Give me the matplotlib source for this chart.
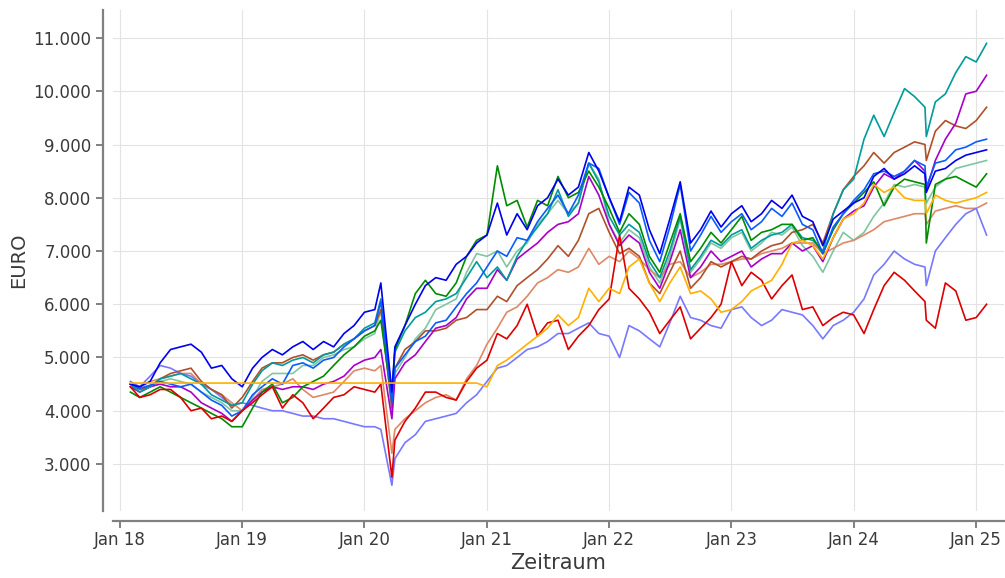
import matplotlib
matplotlib.use('Agg')
import matplotlib.pyplot as plt
import matplotlib.dates as mdates
import matplotlib.ticker as ticker
import numpy as np
import pandas as pd

#month starts Feb 2018 - Feb 2025, plus the covid top/bottom and the aug 2024 dip
dates = pd.date_range('2018-02-01', '2025-02-01', freq='MS')
dates = dates.drop(pd.Timestamp('2020-03-01'))
dates = dates.append(pd.DatetimeIndex(['2020-02-19', '2020-03-23', '2024-08-05'])).sort_values()

#values in EURO (one row per year)
blau = [4500, 4450, 4550, 4900, 5150, 5200, 5250, 5100, 4800, 4850, 4600,
        4450, 4800, 5000, 5150, 5050, 5200, 5300, 5150, 5300, 5200, 5450, 5600,
        5850, 5900, 6400, 4350, 5200, 5600, 6000, 6350, 6500, 6450, 6750, 6900, 7150,
        7300, 7900, 7300, 7700, 7400, 7850, 8000, 8350, 8050, 8200, 8850, 8500,
        8000, 7550, 8200, 8050, 7400, 6950, 7600, 8300, 7150, 7400, 7750, 7450,
        7700, 7850, 7550, 7700, 7950, 7800, 8050, 7650, 7550, 7100, 7600, 7750,
        7900, 8000, 8400, 8550, 8350, 8450, 8600, 8450, 8100, 8500, 8550, 8700, 8800,
        8850, 8900]
royalblau = [4500, 4420, 4480, 4550, 4500, 4450, 4500, 4350, 4200, 4100, 3900,
             4000, 4300, 4450, 4600, 4500, 4850, 4900, 4800, 4950, 5000, 5200, 5350,
             5500, 5600, 6050, 4150, 4800, 5050, 5300, 5400, 5650, 5700, 5950, 6200, 6400,
             6700, 7000, 6900, 7250, 7200, 7550, 7800, 8050, 7700, 8050, 8650, 8550,
             8000, 7500, 8100, 7900, 7200, 6800, 7450, 8250, 7000, 7300, 7650, 7350,
             7550, 7700, 7400, 7550, 7800, 7650, 7900, 7500, 7400, 6950, 7450, 7700,
             7950, 8150, 8450, 8500, 8400, 8500, 8700, 8600, 8200, 8650, 8700, 8900, 8950,
             9050, 9100]
petrol = [4500, 4350, 4450, 4600, 4650, 4700, 4600, 4500, 4300, 4200, 4100,
          4150, 4500, 4750, 4900, 4850, 4950, 5000, 4900, 5050, 5100, 5250, 5350,
          5550, 5650, 6100, 4300, 5100, 5500, 5750, 5850, 6050, 6100, 6200, 6500, 6800,
          6500, 6700, 6450, 6900, 7200, 7450, 7700, 8150, 7650, 7900, 8650, 8300,
          7650, 7300, 7500, 7350, 6800, 6500, 7000, 7650, 6650, 6900, 7200, 7100,
          7300, 7400, 7050, 7200, 7300, 7350, 7500, 7250, 7200, 7000, 7700, 8150,
          8350, 9100, 9550, 9150, 9600, 10050, 9900, 9700, 9150, 9800, 9950, 10350, 10650,
          10550, 10900]
lila = [4450, 4350, 4450, 4500, 4450, 4450, 4350, 4150, 4050, 3950, 3800,
        4000, 4200, 4350, 4450, 4400, 4450, 4450, 4400, 4500, 4550, 4650, 4850,
        4950, 5000, 5150, 3850, 4600, 4900, 5050, 5300, 5550, 5600, 5750, 6100, 6300,
        6300, 6650, 6450, 6850, 7000, 7150, 7350, 7500, 7550, 7700, 8400, 8050,
        7500, 7100, 7300, 7150, 6600, 6300, 6800, 7400, 6500, 6700, 7000, 6800,
        6900, 7000, 6700, 6850, 6950, 6950, 7150, 7000, 7100, 6800, 7250, 7600,
        7750, 7850, 8200, 8450, 8350, 8500, 8700, 8500, 8150, 8700, 9100, 9400, 9950,
        10000, 10300]
braun = [4500, 4400, 4450, 4600, 4700, 4750, 4800, 4550, 4400, 4300, 4050,
         4250, 4550, 4800, 4900, 4900, 5000, 5050, 4950, 5050, 5100, 5250, 5350,
         5500, 5600, 5900, 4050, 4800, 5150, 5300, 5500, 5500, 5550, 5700, 5750, 5900,
         5900, 6150, 6050, 6350, 6500, 6650, 6850, 7100, 6900, 7200, 7700, 7800,
         7350, 6950, 7050, 6900, 6400, 6200, 6600, 7000, 6300, 6500, 6800, 6700,
         6800, 6900, 6850, 7000, 7100, 7150, 7350, 7400, 7500, 7150, 7700, 8150,
         8400, 8600, 8850, 8650, 8850, 8950, 9050, 9000, 8700, 9250, 9450, 9350, 9300,
         9450, 9700]
gruen = [4350, 4250, 4350, 4450, 4350, 4250, 4150, 4050, 3950, 3850, 3700,
         3700, 4050, 4350, 4500, 4150, 4250, 4450, 4550, 4650, 4850, 5050, 5200,
         5400, 5500, 5700, 4200, 5150, 5600, 6200, 6450, 6200, 6150, 6400, 6900, 7200,
         7300, 8600, 7850, 7950, 7450, 7950, 7850, 8400, 8000, 8100, 8500, 8200,
         7800, 7350, 7700, 7500, 6900, 6600, 7150, 7700, 6800, 7050, 7350, 7150,
         7400, 7650, 7200, 7350, 7400, 7500, 7500, 7200, 7250, 6950, 7400, 7700,
         7900, 8100, 8300, 7850, 8200, 8350, 8300, 8250, 7150, 8250, 8350, 8400, 8300,
         8200, 8450]
mint = [4500, 4400, 4450, 4550, 4600, 4550, 4500, 4350, 4250, 4150, 4000,
        4000, 4250, 4550, 4700, 4700, 4700, 4850, 4850, 5000, 5050, 5150, 5200,
        5350, 5450, 5900, 4000, 4700, 5000, 5350, 5550, 5900, 6000, 6100, 6600, 6950,
        6900, 7000, 6700, 7000, 7150, 7500, 7700, 7950, 7700, 7900, 8650, 8350,
        7500, 7150, 7400, 7250, 6700, 6400, 6900, 7600, 6600, 6850, 7150, 7050,
        7250, 7350, 7000, 7150, 7350, 7300, 7450, 7100, 6900, 6600, 7000, 7350,
        7200, 7350, 7650, 7900, 8250, 8200, 8250, 8200, 7900, 8200, 8350, 8550, 8600,
        8650, 8700]
orange = [4520, 4520, 4520, 4520, 4520, 4520, 4520, 4520, 4520, 4520, 4520,
          4520, 4520, 4520, 4520, 4520, 4520, 4520, 4520, 4520, 4520, 4520, 4520,
          4520, 4520, 4520, 4520, 4520, 4520, 4520, 4520, 4520, 4520, 4520, 4520, 4520,
          4450, 4850, 4950, 5100, 5250, 5400, 5550, 5800, 5600, 5750, 6300, 6050,
          6300, 6200, 6700, 6850, 6400, 6050, 6400, 6700, 6200, 6250, 6100, 5850,
          5900, 6050, 6250, 6350, 6450, 6750, 7150, 7200, 7100, 6850, 7250, 7600,
          7700, 7900, 8250, 8100, 8200, 8000, 7950, 7950, 7700, 8050, 7950, 7900, 7950,
          8000, 8100]
lachs = [4500, 4450, 4550, 4600, 4650, 4700, 4700, 4500, 4400, 4300, 4150,
         4000, 4200, 4400, 4450, 4500, 4600, 4400, 4250, 4300, 4350, 4550, 4750,
         4800, 4750, 4850, 3200, 3650, 3850, 4000, 4150, 4250, 4300, 4200, 4600, 4850,
         5250, 5550, 5850, 5950, 6150, 6400, 6500, 6650, 6600, 6700, 7050, 6750,
         6900, 6800, 7000, 6850, 6650, 6500, 6750, 6800, 6500, 6600, 6750, 6750,
         6800, 6850, 6850, 6950, 7000, 7050, 7150, 7150, 7150, 6950, 7050, 7150,
         7200, 7300, 7400, 7550, 7600, 7650, 7700, 7700, 7500, 7750, 7800, 7850, 7800,
         7800, 7900]
lavendel = [4550, 4450, 4650, 4850, 4800, 4700, 4650, 4500, 4400, 4250, 4100,
            4150, 4100, 4050, 4000, 4000, 3950, 3900, 3900, 3850, 3850, 3800, 3750,
            3700, 3700, 3650, 2600, 3100, 3400, 3550, 3800, 3850, 3900, 3950, 4150, 4300,
            4550, 4800, 4850, 5000, 5150, 5200, 5300, 5450, 5450, 5550, 5650, 5450,
            5400, 5000, 5600, 5500, 5350, 5200, 5650, 6150, 5750, 5700, 5600, 5550,
            5900, 5950, 5750, 5600, 5700, 5900, 5850, 5800, 5600, 5350, 5600, 5700,
            5850, 6100, 6550, 6750, 7000, 6850, 6750, 6700, 6350, 7000, 7250, 7500, 7700,
            7800, 7300]
rot = [4450, 4250, 4300, 4400, 4400, 4250, 4000, 4050, 3850, 3900, 3800,
       4000, 4150, 4300, 4450, 4050, 4300, 4150, 3850, 4050, 4250, 4300, 4450,
       4400, 4350, 4500, 2750, 3450, 3800, 4050, 4350, 4350, 4250, 4200, 4550, 4800,
       4950, 5450, 5350, 5600, 6000, 5400, 5650, 5700, 5150, 5400, 5600, 5900,
       6100, 7300, 6300, 6100, 5850, 5450, 5700, 5950, 5350, 5550, 5750, 6000,
       6800, 6350, 6600, 6450, 6100, 6350, 6550, 5900, 5950, 5600, 5750, 5850,
       5800, 5450, 5900, 6350, 6600, 6450, 6250, 6050, 5700, 5550, 6400, 6250, 5700,
       5750, 6000]

#drawing order: first = bottom
serien = [(mint, '#7fc6a0'), (lachs, '#de8866'), (lavendel, '#7878ff'),
          (braun, '#b0502a'), (lila, '#a800c8'), (petrol, '#009b9b'),
          (gruen, '#008c00'), (royalblau, '#0a5cff'), (blau, '#0000f0'),
          (rot, '#dc0000'), (orange, '#ffb000')]

fig = plt.figure(figsize=(10.05, 5.78), dpi=100)
ax = fig.add_axes([0.1124, 0.1159, 0.8866, 0.8668])

for werte, farbe in serien:
    ax.plot(dates, werte, color=farbe, lw=1.2)

ax.set_xlim(pd.Timestamp('2017-12-11'), pd.Timestamp('2025-03-25'))
ax.set_ylim(2117, 11526)

ax.xaxis.set_major_locator(mdates.YearLocator())
ax.xaxis.set_major_formatter(mdates.DateFormatter('Jan %y'))
ax.yaxis.set_major_locator(ticker.MultipleLocator(1000))
ax.yaxis.set_major_formatter(ticker.FuncFormatter(lambda v, p: '{:,.0f}'.format(v).replace(',', '.')))

ax.grid(True, color='#e3e3e3', lw=0.8)
ax.set_axisbelow(True)
for s in ['top', 'right']:
    ax.spines[s].set_visible(False)
for s in ['left', 'bottom']:
    ax.spines[s].set_position(('outward', 7))
    ax.spines[s].set_color('#808080')
    ax.spines[s].set_linewidth(1.6)
ax.tick_params(colors='#808080', length=5, width=1.4, labelsize=12, labelcolor='#3a3a3a')
ax.tick_params(axis='x', pad=2.5)

ax.set_xlabel('Zeitraum', fontsize=15, color='#3a3a3a', labelpad=3)
ax.set_ylabel('EURO', fontsize=14, color='#3a3a3a', labelpad=4)

fig.savefig('out.png', dpi=100)
